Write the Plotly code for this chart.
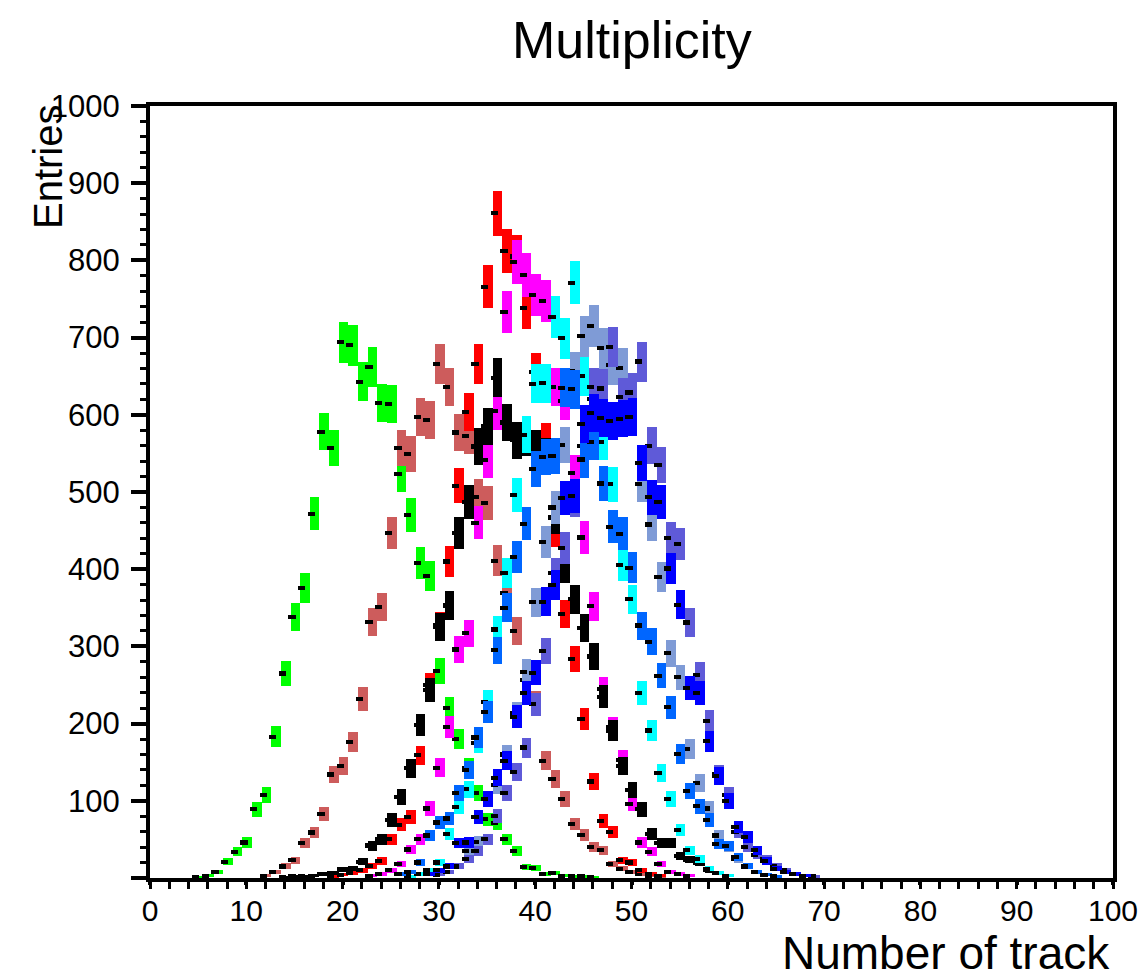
import numpy as np
import plotly.graph_objects as go

# ---------------- data (bin index start + entries per bin) ----------------
green_start = 5
green_vals = [1, 3, 8, 21, 34, 46, 89, 107, 183, 265, 338, 376, 472, 578, 557, 694, 690, 643, 662, 615,
              614, 523, 470, 408, 391, 268, 220, 180, 143, 110, 76, 71, 50, 35, 14, 13, 5, 6, 3, 2, 2, 1]

indianred_start = 12
indianred_vals = [3, 8, 15, 23, 45, 59, 83, 134, 145, 176, 232, 332, 351, 447, 557, 549, 597, 593, 666, 636,
                  577, 573, 494, 486, 411, 369, 320, 256, 227, 152, 128, 102, 70, 56, 40, 36, 18, 12, 8, 5, 3, 2]

red_start = 19
red_vals = [2, 4, 7, 10, 16, 22, 50, 69, 79, 159, 250, 327, 410, 508, 604, 666, 766, 861, 812, 805,
            738, 655, 565, 450, 342, 284, 206, 125, 74, 60, 23, 20, 10, 5, 3]

magenta_start = 23
magenta_vals = [3, 5, 10, 18, 37, 50, 90, 143, 196, 296, 317, 460, 541, 605, 733, 798, 781, 755, 747, 636,
                618, 525, 441, 352, 245, 195, 153, 96, 46, 34, 18, 8, 5, 3]

black_start = 14
black_vals = [1, 2, 2, 3, 5, 7, 11, 12, 21, 42, 50, 75, 105, 142, 198, 243, 325, 353, 447, 487,
              559, 585, 648, 590, 567, 571, 557, 547, 467, 402, 361, 324, 287, 235, 191, 145, 114, 89, 57, 45,
              45, 28, 24, 20, 10, 6, 3]

cyan_start = 27
cyan_vals = [2, 5, 10, 20, 57, 92, 115, 175, 228, 322, 395, 496, 574, 640, 641, 727, 699, 771, 650, 620,
             565, 510, 405, 361, 240, 191, 136, 102, 62, 36, 25, 12, 6, 3]

steel_start = 30
steel_vals = [4, 8, 15, 35, 47, 50, 120, 160, 213, 267, 357, 435, 480, 561, 656, 702, 715, 686, 665, 661,
              600, 510, 458, 390, 291, 260, 167, 123, 90, 55, 40, 25, 15, 8, 4]

slate_start = 30
slate_vals = [4, 8, 15, 25, 35, 50, 80, 110, 137, 169, 225, 294, 395, 428, 490, 560, 636, 634, 688, 623,
              629, 669, 560, 535, 440, 433, 331, 263, 203, 135, 108, 60, 40, 30, 25, 15, 10, 5, 3, 2]

azure_start = 26
azure_vals = [5, 8, 20, 55, 72, 77, 110, 140, 182, 215, 295, 350, 416, 459, 530, 545, 547, 635, 633, 542,
              565, 511, 455, 446, 402, 327, 306, 262, 221, 161, 113, 93, 75, 44, 41, 27, 15, 8, 4, 2]

blue_start = 29
blue_vals = [5, 10, 15, 45, 46, 79, 102, 130, 152, 209, 240, 266, 358, 380, 492, 495, 588, 602, 596, 592,
             595, 597, 538, 493, 487, 401, 354, 246, 240, 177, 132, 100, 66, 53, 36, 22, 12, 8, 5, 3]

x_ticks = list(range(0, 101, 10))
y_ticks = list(range(0, 1001, 100))
y_ticktext = [""] + [str(v) for v in y_ticks[1:]]

series = [
    (green_start, green_vals, "#00ff00"),
    (indianred_start, indianred_vals, "#cd5c5c"),
    (red_start, red_vals, "#ff0000"),
    (magenta_start, magenta_vals, "#ff00ff"),
    (black_start, black_vals, "#000000"),
    (cyan_start, cyan_vals, "#00ffff"),
    (steel_start, steel_vals, "#7f9bd6"),
    (slate_start, slate_vals, "#5f5ad8"),
    (azure_start, azure_vals, "#0066ff"),
    (blue_start, blue_vals, "#0000ff"),
]

FONT = "Liberation Sans, Arial, Helvetica, sans-serif"

fig = go.Figure()
for start, vals, col in series:
    v = np.array(vals, dtype=float)
    k = np.arange(start, start + len(v), dtype=float)
    err = np.sqrt(v)
    # error boxes
    fig.add_trace(go.Bar(
        x=k + 0.1, y=2 * err, base=v - err, width=1.0,
        marker=dict(color=col, line=dict(width=0)),
        showlegend=False, hoverinfo="skip"))
    # black markers
    fig.add_trace(go.Bar(
        x=k - 0.25, y=np.full_like(v, 5.4), base=v - 2.7, width=0.75,
        marker=dict(color="black", line=dict(width=0)),
        showlegend=False, hoverinfo="skip"))

fig.update_layout(
    width=1142, height=974,
    margin=dict(l=150, r=29, t=106, b=96, autoexpand=False),
    paper_bgcolor="white", plot_bgcolor="white",
    barmode="overlay", bargap=0,
    font=dict(family=FONT, color="black"),
    showlegend=False,
    xaxis2=dict(
        overlaying="x", anchor="y", side="bottom", range=[0, 100],
        tickvals=x_ticks, ticks="outside", ticklen=14, tickwidth=4, tickcolor="black",
        showticklabels=False, showline=False, showgrid=False, zeroline=False, automargin=False,
    ),
)

fig.update_xaxes(
    selector=dict(anchor="y", overlaying=None),
)
fig.layout.xaxis.update(
    range=[0, 100], tickvals=x_ticks, ticktext=[str(t) for t in x_ticks],
    ticks="outside", ticklen=3, tickwidth=4, tickcolor="black",
    showline=True, linewidth=4, linecolor="black", mirror=True,
    showgrid=False, zeroline=False, automargin=False,
    tickfont=dict(size=30, family=FONT, color="black"),
    minor=dict(dtick=2, ticks="outside", ticklen=7, tickwidth=3, tickcolor="black", showgrid=False),
)
fig.update_yaxes(
    range=[0, 1000], tickvals=y_ticks, ticktext=y_ticktext,
    ticks="outside", ticklen=15, tickwidth=4, tickcolor="black", ticklabelstandoff=5,
    showline=True, linewidth=4, linecolor="black", mirror=True,
    showgrid=False, zeroline=False, automargin=False,
    tickfont=dict(size=31, family=FONT, color="black"),
    minor=dict(dtick=20, ticks="outside", ticklen=6, tickwidth=3, tickcolor="black", showgrid=False),
)

fig.add_annotation(text="Multiplicity", xref="paper", yref="paper",
                   x=(632 - 150) / 963, y=(878 - 40) / 772, xanchor="center", yanchor="middle",
                   showarrow=False, font=dict(size=52, family=FONT, color="black"))
fig.add_annotation(text="Number of track", xref="paper", yref="paper",
                   x=(1112 - 150) / 963, y=(878 - 953) / 772, xanchor="right", yanchor="middle",
                   showarrow=False, font=dict(size=46, family=FONT, color="black"))
fig.add_annotation(text="Entries", xref="paper", yref="paper",
                   x=(48 - 150) / 963, y=(878 - 167) / 772, xanchor="center", yanchor="middle",
                   textangle=-90, showarrow=False, font=dict(size=40, family=FONT, color="black"))

fig.write_html("out.html")
